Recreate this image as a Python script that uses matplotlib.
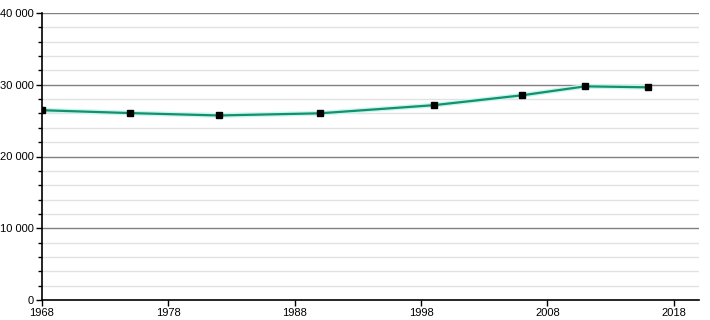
import numpy as np
import matplotlib.pyplot as plt

years = [1968, 1975, 1982, 1990, 1999, 2006, 2011, 2016]
population = [26450, 26050, 25720, 26020, 27150, 28530, 29780, 29640]
x_ticks = [1968, 1978, 1988, 1998, 2008, 2018]
y_major = [0, 10000, 20000, 30000, 40000]
y_minor = [v for v in range(0, 40001, 2000) if v % 10000]

plt.rcParams['font.family'] = ['Liberation Sans', 'DejaVu Sans']

fig = plt.figure(figsize=(7.1, 3.2), dpi=100)
ax = fig.add_axes([42 / 710, 20 / 320, 657 / 710, 287 / 320])

for v in y_minor:
    ax.axhline(v, color='#e2e2e2', lw=1, zorder=0)
for v in y_major[1:]:
    ax.axhline(v, color='#808080', lw=1, zorder=0)

ax.plot(years, population, color='#c8f5ef', lw=3.5, zorder=2, solid_capstyle='butt')
ax.plot(years, population, color='#12916b', lw=1.6, zorder=3)
ax.plot(years, population, 's', color='black', ms=4, zorder=4)

ax.set_xlim(1968, 2020)
ax.set_ylim(0, 40000)
ax.set_xticks(x_ticks)
ax.set_yticks(y_major)
ax.set_yticks(y_minor, minor=True)
ax.set_yticklabels([f'{v:,}'.replace(',', ' ') for v in y_major])
ax.tick_params(labelsize=8, length=4, width=1, color='black', pad=2)
ax.tick_params(axis='y', which='minor', length=3, width=1)

for side in ['top', 'right']:
    ax.spines[side].set_visible(False)
for side in ['left', 'bottom']:
    ax.spines[side].set_linewidth(1.2)

fig.savefig('out.png', dpi=100)
